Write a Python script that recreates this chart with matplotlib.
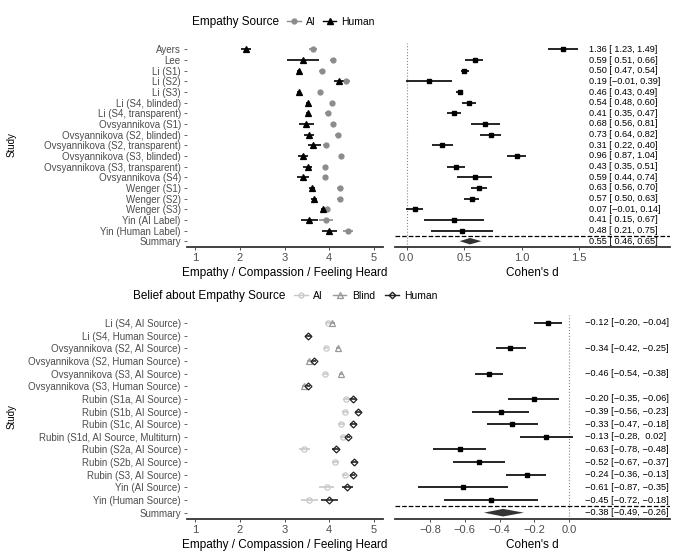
import numpy as np
import matplotlib
matplotlib.use("Agg")
import matplotlib.pyplot as plt
from matplotlib.lines import Line2D

plt.rcParams['font.family'] = ['Liberation Sans', 'DejaVu Sans']

# ---- top panel data: blinded AI vs human empathy ----
top_studies = ["Ayers", "Lee", "Li (S1)", "Li (S2)", "Li (S3)", "Li (S4, blinded)",
               "Li (S4, transparent)", "Ovsyannikova (S1)", "Ovsyannikova (S2, blinded)",
               "Ovsyannikova (S2, transparent)", "Ovsyannikova (S3, blinded)",
               "Ovsyannikova (S3, transparent)", "Ovsyannikova (S4)", "Wenger (S1)",
               "Wenger (S2)", "Wenger (S3)", "Yin (AI Label)", "Yin (Human Label)", "Summary"]
top_ai = [3.64, 4.09, 3.83, 4.37, 3.79, 4.07, 3.96, 4.09, 4.20, 3.93, 4.26, 3.91, 3.91,
          4.23, 4.23, 3.94, 3.93, 4.42]
top_ai_lo = [3.55, 4.02, 3.77, 4.28, 3.74, 4.02, 3.90, 4.03, 4.13, 3.86, 4.21, 3.85, 3.85,
             4.17, 4.17, 3.89, 3.78, 4.30]
top_ai_hi = [3.73, 4.16, 3.89, 4.47, 3.84, 4.12, 4.02, 4.15, 4.27, 4.00, 4.31, 3.97, 3.98,
             4.29, 4.29, 3.99, 4.08, 4.53]
top_hum = [2.14, 3.41, 3.32, 4.22, 3.32, 3.53, 3.53, 3.48, 3.55, 3.64, 3.42, 3.52, 3.41,
           3.61, 3.65, 3.87, 3.55, 4.00]
top_hum_lo = [2.03, 3.06, 3.28, 4.11, 3.28, 3.49, 3.49, 3.32, 3.44, 3.52, 3.30, 3.42, 3.27,
              3.55, 3.58, 3.81, 3.36, 3.83]
top_hum_hi = [2.26, 3.78, 3.36, 4.32, 3.36, 3.57, 3.57, 3.66, 3.66, 3.81, 3.53, 3.62, 3.54,
              3.68, 3.72, 3.93, 3.74, 4.17]
top_d = [1.36, 0.59, 0.50, 0.19, 0.46, 0.54, 0.41, 0.68, 0.73, 0.31, 0.96, 0.43, 0.59,
         0.63, 0.57, 0.07, 0.41, 0.48]
top_d_lo = [1.23, 0.51, 0.47, -0.01, 0.43, 0.48, 0.35, 0.56, 0.64, 0.22, 0.87, 0.35, 0.44,
            0.56, 0.50, -0.01, 0.15, 0.21]
top_d_hi = [1.49, 0.66, 0.54, 0.39, 0.49, 0.60, 0.47, 0.81, 0.82, 0.40, 1.04, 0.51, 0.74,
            0.70, 0.63, 0.14, 0.67, 0.75]
top_summary = [0.55, 0.46, 0.65]

# ---- bottom panel data: belief about empathy source ----
bot_studies = ["Li (S4, AI Source)", "Li (S4, Human Source)", "Ovsyannikova (S2, AI Source)",
               "Ovsyannikova (S2, Human Source)", "Ovsyannikova (S3, AI Source)",
               "Ovsyannikova (S3, Human Source)", "Rubin (S1a, AI Source)",
               "Rubin (S1b, AI Source)", "Rubin (S1c, AI Source)",
               "Rubin (S1d, AI Source, Multiturn)", "Rubin (S2a, AI Source)",
               "Rubin (S2b, AI Source)", "Rubin (S3, AI Source)", "Yin (AI Source)",
               "Yin (Human Source)", "Summary"]
nan = np.nan
bot_ai = [3.96, nan, 3.93, nan, 3.91, nan, 4.37, 4.35, 4.27, 4.31, 3.44, 4.13, 4.34, 3.94, 3.55]
bot_ai_lo = [3.91, nan, 3.88, nan, 3.86, nan, 4.30, 4.28, 4.19, 4.25, 3.32, 4.05, 4.28, 3.78, 3.36]
bot_ai_hi = [4.01, nan, 3.98, nan, 3.96, nan, 4.44, 4.42, 4.35, 4.37, 3.57, 4.21, 4.40, 4.10, 3.74]
bot_blind = [4.07, nan, 4.20, 3.55, 4.26, 3.43, nan, nan, nan, nan, nan, nan, nan, nan, nan]
bot_blind_lo = [4.02, nan, 4.15, 3.50, 4.21, 3.38, nan, nan, nan, nan, nan, nan, nan, nan, nan]
bot_blind_hi = [4.12, nan, 4.25, 3.60, 4.31, 3.48, nan, nan, nan, nan, nan, nan, nan, nan, nan]
bot_hum = [nan, 3.53, nan, 3.66, nan, 3.52, 4.52, 4.64, 4.54, 4.41, 4.14, 4.56, 4.52, 4.40, 4.00]
bot_hum_lo = [nan, 3.48, nan, 3.61, nan, 3.47, 4.45, 4.57, 4.47, 4.35, 4.06, 4.49, 4.46, 4.28, 3.82]
bot_hum_hi = [nan, 3.58, nan, 3.71, nan, 3.57, 4.59, 4.71, 4.61, 4.47, 4.22, 4.63, 4.58, 4.52, 4.19]
bot_d_rows = [0, 2, 4, 6, 7, 8, 9, 10, 11, 12, 13, 14]
bot_d = [-0.12, -0.34, -0.46, -0.20, -0.39, -0.33, -0.13, -0.63, -0.52, -0.24, -0.61, -0.45]
bot_d_lo = [-0.20, -0.42, -0.54, -0.35, -0.56, -0.47, -0.28, -0.78, -0.67, -0.36, -0.87, -0.72]
bot_d_hi = [-0.04, -0.25, -0.38, -0.06, -0.23, -0.18, 0.02, -0.48, -0.37, -0.13, -0.35, -0.18]
bot_summary = [-0.38, -0.49, -0.26]

GREY_TXT = '#4d4d4d'
AXC = '#333333'


def fmt(v):
    return f"{v:.2f}".replace('-', '\u2212')


def ci_labels(d, lo, hi):
    lo_s = [fmt(v) for v in lo]
    hi_s = [fmt(v) for v in hi]
    wl = max(len(s) for s in lo_s)
    wh = max(len(s) for s in hi_s)
    return [f"{fmt(a)} [{b.rjust(wl)}, {c.rjust(wh)}]" for a, b, c in zip(d, lo_s, hi_s)]


def style_left(ax, labels, n):
    for s in ['top', 'right', 'left']:
        ax.spines[s].set_visible(False)
    ax.spines['bottom'].set_color(AXC)
    ax.spines['bottom'].set_linewidth(1.3)
    ax.set_yticks(range(n))
    ax.set_yticklabels(labels)
    ax.set_ylim(n - 0.5, -0.6)
    ax.set_xlim(0.82, 5.2)
    ax.set_xticks([1, 2, 3, 4, 5])
    ax.tick_params(axis='y', colors='#4d4d4d', labelsize=7, length=2.5, width=0.6, pad=2)
    ax.tick_params(axis='x', colors=AXC, labelcolor=GREY_TXT, labelsize=8, length=2.5,
                   width=0.6, pad=2)
    ax.set_xlabel("Empathy / Compassion / Feeling Heard", fontsize=8.5, labelpad=3)


def style_right(ax, n):
    for s in ['top', 'right', 'left']:
        ax.spines[s].set_visible(False)
    ax.spines['bottom'].set_color(AXC)
    ax.spines['bottom'].set_linewidth(1.3)
    ax.set_yticks([])
    ax.set_ylim(n - 0.5, -0.6)
    ax.tick_params(axis='x', colors=AXC, labelcolor=GREY_TXT, labelsize=8, length=2.5,
                   width=0.6, pad=2)
    ax.axvline(0, color='#888888', ls=':', lw=0.8, zorder=0)
    ax.set_xlabel("Cohen's d", fontsize=8.5, labelpad=3)


def pointrange(ax, x, lo, hi, rows, color, marker, ms, mfc, mew=0.9, z=3):
    x = np.asarray(x, float)
    lo = np.asarray(lo, float)
    hi = np.asarray(hi, float)
    rows = np.asarray(rows, float)
    ok = ~np.isnan(x)
    ax.errorbar(x[ok], rows[ok], xerr=[x[ok] - lo[ok], hi[ok] - x[ok]], fmt=marker,
                color=color, ms=ms, mfc=mfc, mec=color, mew=mew, elinewidth=1.2,
                capsize=0, zorder=z)


fig = plt.figure(figsize=(6.8, 5.56), dpi=100)
W, H = 680, 556


def px_axes(x0, x1, y0, y1):
    return fig.add_axes([x0 / W, 1 - y1 / H, (x1 - x0) / W, (y1 - y0) / H])


# ---------- top left ----------
nt = len(top_studies)
axA = px_axes(187, 383, 43, 246.5)
rows_t = np.arange(nt - 1)
pointrange(axA, top_ai, top_ai_lo, top_ai_hi, rows_t, '#8c8c8c', 'o', 3.6, '#8c8c8c')
pointrange(axA, top_hum, top_hum_lo, top_hum_hi, rows_t, 'black', '^', 4.2, 'black')
style_left(axA, top_studies, nt)

# ---------- top right ----------
axB = px_axes(395, 670, 43, 246.5)
axB.errorbar(top_d, rows_t, xerr=[np.array(top_d) - np.array(top_d_lo),
                                  np.array(top_d_hi) - np.array(top_d)],
             fmt='s', color='black', ms=2.8, elinewidth=1.2, capsize=0)
es, slo, shi = top_summary
axB.fill([slo, es, shi, es], [nt - 1, nt - 1 - 0.3, nt - 1, nt - 1 + 0.3],
         color='#333333', lw=0)
axB.axhline(nt - 1.5, color='black', ls='--', lw=0.9)
axB.set_xlim(-0.102, 2.29)
axB.set_xticks([0.0, 0.5, 1.0, 1.5])
axB.set_xticklabels(['0.0', '0.5', '1.0', '1.5'])
style_right(axB, nt)
labs = ci_labels(top_d + [es], top_d_lo + [slo], top_d_hi + [shi])
for i, t in enumerate(labs):
    axB.text(1.587, i, t, fontsize=6.6, va='center', ha='left')

# ---------- bottom left ----------
nb = len(bot_studies)
axC = px_axes(187, 383, 315.4, 519)
rows_b = np.arange(nb - 1)
pointrange(axC, bot_ai, bot_ai_lo, bot_ai_hi, rows_b, '#c8c8c8', 'o', 3.8, 'none')
pointrange(axC, bot_blind, bot_blind_lo, bot_blind_hi, rows_b, '#9a9a9a', '^', 4.2, 'none')
pointrange(axC, bot_hum, bot_hum_lo, bot_hum_hi, rows_b, '#222222', 'D', 3.5, 'none')
style_left(axC, bot_studies, nb)

# ---------- bottom right ----------
axD = px_axes(395, 670, 315.4, 519)
axD.errorbar(bot_d, bot_d_rows, xerr=[np.array(bot_d) - np.array(bot_d_lo),
                                      np.array(bot_d_hi) - np.array(bot_d)],
             fmt='s', color='black', ms=2.8, elinewidth=1.2, capsize=0)
es, slo, shi = bot_summary
axD.fill([slo, es, shi, es], [nb - 1, nb - 1 - 0.3, nb - 1, nb - 1 + 0.3],
         color='#333333', lw=0)
axD.axhline(nb - 1.5, color='black', ls='--', lw=0.9)
axD.set_xlim(-1.0014, 0.581)
axD.set_xticks([-0.8, -0.6, -0.4, -0.2, 0.0])
axD.set_xticklabels(['\u22120.8', '\u22120.6', '\u22120.4', '\u22120.2', '0.0'])
style_right(axD, nb)
labs = ci_labels(bot_d + [es], bot_d_lo + [slo], bot_d_hi + [shi])
for r, t in zip(bot_d_rows + [nb - 1], labs):
    axD.text(0.092, r, t, fontsize=6.7, va='center', ha='left')

# ---------- y labels & legends ----------
fig.text(12 / W, 1 - 145 / H, "Study", rotation=90, fontsize=7, va='center', ha='center')
fig.text(12 / W, 1 - 417 / H, "Study", rotation=90, fontsize=7, va='center', ha='center')

fig.text(192 / W, 1 - 22 / H, "Empathy Source", fontsize=8.5, va='center', ha='left')
h_top = [Line2D([], [], color='#8c8c8c', marker='o', ms=3.5, lw=1.0),
         Line2D([], [], color='black', marker='^', ms=4, lw=1.0)]
fig.legend(h_top, ['AI', 'Human'], loc='center left', bbox_to_anchor=(287 / W, 1 - 22 / H),
           ncol=2, frameon=False, fontsize=7.5, handlelength=1.3, handletextpad=0.5,
           columnspacing=0.7, borderpad=0, borderaxespad=0)

fig.text(133 / W, 1 - 296 / H, "Belief about Empathy Source", fontsize=8.5, va='center',
         ha='left')
h_bot = [Line2D([], [], color='#c8c8c8', marker='o', ms=3.5, lw=1.0, mfc='none'),
         Line2D([], [], color='#9a9a9a', marker='^', ms=4, lw=1.0, mfc='none'),
         Line2D([], [], color='#222222', marker='D', ms=3.3, lw=1.0, mfc='none')]
fig.legend(h_bot, ['AI', 'Blind', 'Human'], loc='center left',
           bbox_to_anchor=(294 / W, 1 - 296 / H), ncol=3, frameon=False, fontsize=7.5,
           handlelength=1.3, handletextpad=0.5, columnspacing=1.0, borderpad=0,
           borderaxespad=0)

fig.savefig("out.png", dpi=100)
